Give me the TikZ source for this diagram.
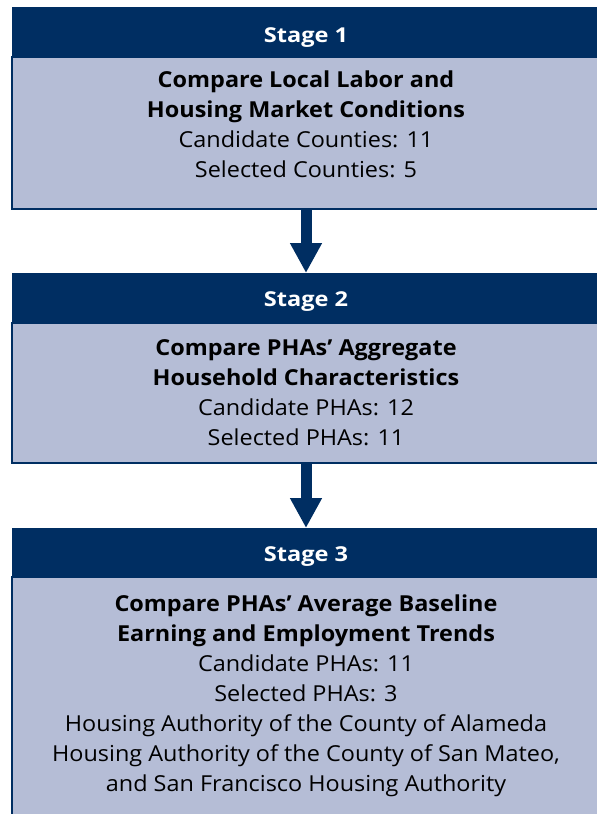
\documentclass[tikz,border=0pt]{standalone}
\usepackage{fontspec}
\setmainfont{Open Sans}[FakeStretch=1.065]
\newfontfamily\headfont{Open Sans}[FakeStretch=1.15]
\usetikzlibrary{arrows.meta}
\definecolor{navy}{RGB}{0,46,98}
\definecolor{lightbody}{RGB}{181,189,214}
\begin{document}
\begin{tikzpicture}[x=1pt,y=-1pt,
  header/.style={fill=navy, inner sep=0pt, outer sep=0pt, anchor=north west,
    minimum width=589pt, minimum height=50pt},
  body/.style={fill=lightbody, draw=navy, line width=2pt, inner sep=0pt, outer sep=0pt,
    anchor=north west, minimum width=589pt},
  htext/.style={text=white, font=\headfont\fontsize{20.5}{24}\selectfont\bfseries, anchor=base, inner sep=0pt},
  btext/.style={text=black, font=\fontsize{22}{30}\selectfont, align=center, anchor=base, inner sep=0pt},
  flow/.style={draw=navy, line width=11pt, -{Triangle[width=30pt,length=30pt]}, shorten >=0pt}
]
\useasboundingbox (0,0) rectangle (597,814);
\begin{scope}
\clip (0,0) rectangle (597,814);
% Stage 1
\node[body, minimum height=152pt] (b1) at (12,57) {};
\node[header] (h1) at (12,7) {};
% Stage 2
\node[body, minimum height=140pt] (b2) at (12,323) {};
\node[header] (h2) at (12,273) {};
% Stage 3
\node[body, minimum height=260pt] (b3) at (12,577) {};
\node[header] (h3) at (12,528) {};
\end{scope}

\node[htext] (s1) at (306,42) {Stage 1};
\node[htext] (s2) at (306,306) {Stage 2};
\node[htext] (s3) at (306,561) {Stage 3};

\node[btext] (t1) at (306,177) {\textbf{Compare Local Labor and}\\\textbf{Housing Market Conditions}\\Candidate Counties: 11\\Selected Counties: 5};
\node[btext] (t2) at (306,445) {\textbf{Compare PHAs’ Aggregate}\\\textbf{Household Characteristics}\\Candidate PHAs: 12\\Selected PHAs: 11};
\node[btext] (t3) at (306,791) {\textbf{Compare PHAs’ Average Baseline}\\\textbf{Earning and Employment Trends}\\Candidate PHAs: 11\\Selected PHAs: 3\\Housing Authority of the County of Alameda\\Housing Authority of the County of San Mateo,\\and San Francisco Housing Authority};

\draw[flow] (b1.south -| 306,0) -- (h2.north -| 306,0);
\draw[flow] (b2.south -| 306,0) -- (h3.north -| 306,0);
\end{tikzpicture}
\end{document}
